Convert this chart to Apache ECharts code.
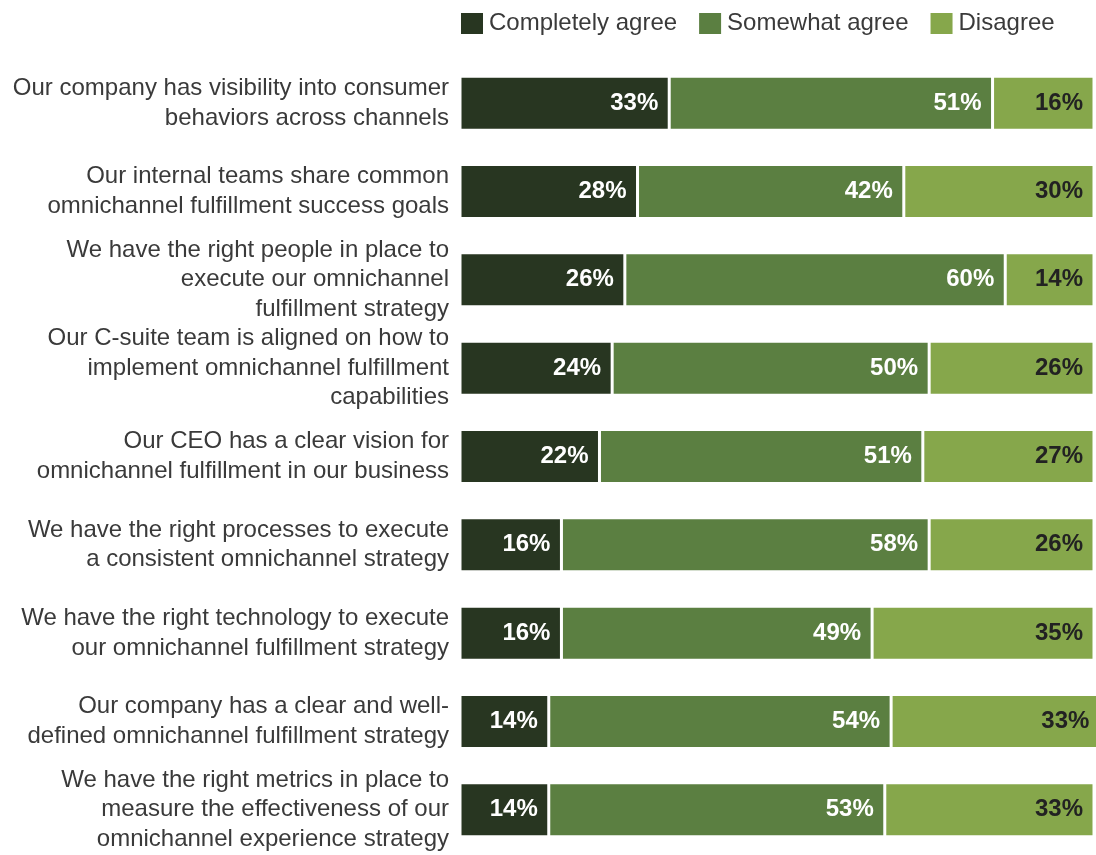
<!DOCTYPE html>
<html>
<head>
<meta charset="utf-8">
<script src="https://cdn.jsdelivr.net/npm/echarts@6/dist/echarts.min.js"></script>
<style>
  html, body { margin: 0; padding: 0; background: #fff; }
  #chart { width: 1096px; height: 855px; }
</style>
</head>
<body>
<div id="chart"></div>
<script>
// Survey statements (top to bottom)
const statements = [
  'Our company has visibility into consumer\nbehaviors across channels',
  'Our internal teams share common\nomnichannel fulfillment success goals',
  'We have the right people in place to\nexecute our omnichannel\nfulfillment strategy',
  'Our C-suite team is aligned on how to\nimplement omnichannel fulfillment\ncapabilities',
  'Our CEO has a clear vision for\nomnichannel fulfillment in our business',
  'We have the right processes to execute\na consistent omnichannel strategy',
  'We have the right technology to execute\nour omnichannel fulfillment strategy',
  'Our company has a clear and well-\ndefined omnichannel fulfillment strategy',
  'We have the right metrics in place to\nmeasure the effectiveness of our\nomnichannel experience strategy'
];

// Share of respondents (%)
const completelyAgree = [33, 28, 26, 24, 22, 16, 16, 14, 14];
const somewhatAgree   = [51, 42, 60, 50, 51, 58, 49, 54, 53];
const disagree        = [16, 30, 14, 26, 27, 26, 35, 33, 33];

const FONT = '"Liberation Sans", Arial, Helvetica, sans-serif';

function makeSeries(name, data, color, labelColor) {
  return {
    name: name,
    type: 'bar',
    stack: 'total',
    data: data,
    barWidth: 54,
    clip: false,
    itemStyle: { color: color, borderColor: '#ffffff', borderWidth: 1.5 },
    label: {
      show: true,
      position: 'insideRight',
      distance: 11,
      formatter: '{c}%',
      color: labelColor,
      fontFamily: FONT,
      fontWeight: 'bold',
      fontSize: 24
    },
    emphasis: { disabled: true }
  };
}

const chart = echarts.init(document.getElementById('chart'), null, { renderer: 'canvas' });
chart.setOption({
  animation: false,
  backgroundColor: '#ffffff',
  legend: {
    left: 459,
    top: 11,
    padding: 0,
    itemWidth: 24,
    itemHeight: 23,
    itemGap: 20,
    itemTextGap: 10,
    selectedMode: false,
    icon: 'rect',
    textStyle: { fontFamily: FONT, fontSize: 24, color: '#3a3a3a' },
    data: ['Completely agree', 'Somewhat agree', 'Disagree']
  },
  grid: { left: 460, right: 2, top: 59, bottom: 1, containLabel: false },
  xAxis: {
    type: 'value',
    min: 0,
    max: 100,
    show: false
  },
  yAxis: {
    type: 'category',
    inverse: true,
    data: statements,
    axisLine: { show: false },
    axisTick: { show: false },
    axisLabel: {
      margin: 11,
      fontFamily: FONT,
      fontSize: 24,
      lineHeight: 29.5,
      color: '#3a3a3a',
      align: 'right'
    }
  },
  series: [
    makeSeries('Completely agree', completelyAgree, '#283621', '#ffffff'),
    makeSeries('Somewhat agree', somewhatAgree, '#5b7f41', '#ffffff'),
    makeSeries('Disagree', disagree, '#86a74b', '#222222')
  ]
});
</script>
</body>
</html>
